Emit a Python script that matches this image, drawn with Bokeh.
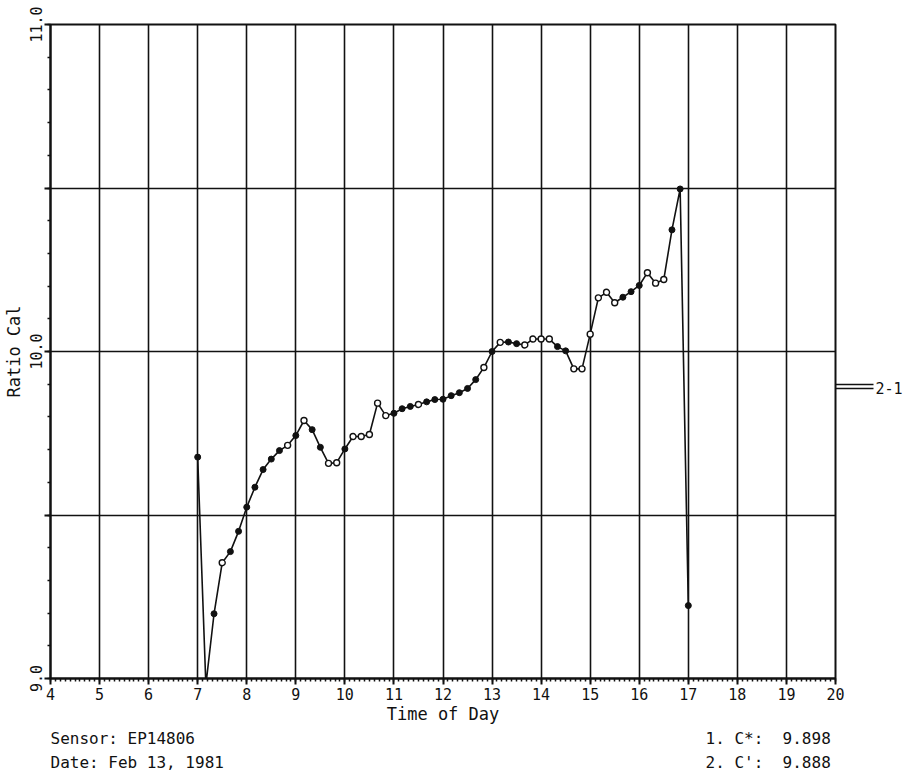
from bokeh.plotting import figure
from bokeh.models import Range1d, FixedTicker, LinearAxis, Title
from bokeh.embed import file_html
from bokeh.resources import INLINE

# ---------------- data ----------------
TIMES = ["07:00", "07:10", "07:20", "07:30", "07:40", "07:50",
         "08:00", "08:10", "08:20", "08:30", "08:40", "08:50",
         "09:00", "09:10", "09:20", "09:30", "09:40", "09:50",
         "10:00", "10:10", "10:20", "10:30", "10:40", "10:50",
         "11:00", "11:10", "11:20", "11:30", "11:40", "11:50",
         "12:00", "12:10", "12:20", "12:30", "12:40", "12:50",
         "13:00", "13:10", "13:20", "13:30", "13:40", "13:50",
         "14:00", "14:10", "14:20", "14:30", "14:40", "14:50",
         "15:00", "15:10", "15:20", "15:30", "15:40", "15:50",
         "16:00", "16:10", "16:20", "16:30", "16:40", "16:50",
         "17:00"]
RATIO = [9.677, 8.980, 9.198, 9.354, 9.388, 9.450,
         9.524, 9.585, 9.639, 9.671, 9.697, 9.713,
         9.743, 9.789, 9.761, 9.707, 9.658, 9.660,
         9.702, 9.740, 9.740, 9.746, 9.842, 9.804,
         9.811, 9.825, 9.832, 9.838, 9.846, 9.853,
         9.854, 9.865, 9.874, 9.887, 9.914, 9.951,
         10.000, 10.028, 10.029, 10.024, 10.020, 10.038,
         10.038, 10.038, 10.015, 10.002, 9.947, 9.947,
         10.053, 10.164, 10.181, 10.149, 10.166, 10.183,
         10.202, 10.241, 10.209, 10.220, 10.372, 10.497,
         9.223]
HOLLOW = [3, 11, 13, 16, 17, 19, 20, 21, 22, 23, 27, 35, 37, 40, 41, 42,
          43, 46, 47, 48, 49, 50, 51, 55, 56, 57]

X_TICKS = list(range(4, 21))
Y_TICKS = [9.0, 9.5, 10.0, 10.5, 11.0]
Y_TICK_LABELS = ["9.0", "", "10.0", "", "11.0"]
X_GRID = list(range(5, 20))
Y_GRID = [9.5, 10.0, 10.5]

SENSOR = "EP14806"
DATE = "Feb 13, 1981"
C1_NAME, C1_VALUE = "C*", 9.898
C2_NAME, C2_VALUE = "C'", 9.888


def hours(s):
    h, m = s.split(":")
    return int(h) + int(m) / 60.0


xs = [hours(t) for t in TIMES]
filled_x = [x for i, x in enumerate(xs) if i not in HOLLOW]
filled_y = [y for i, y in enumerate(RATIO) if i not in HOLLOW]
hollow_x = [xs[i] for i in HOLLOW]
hollow_y = [RATIO[i] for i in HOLLOW]

FONT = "DejaVu Sans Mono"
INK = "#111111"
NB = "\u00a0"

p = figure(width=906, height=772,
           x_range=Range1d(4, 20), y_range=Range1d(9, 11),
           output_backend="svg", toolbar_location=None,
           min_border_left=49, min_border_right=71,
           min_border_top=24, min_border_bottom=94)
p.background_fill_color = "white"
p.border_fill_color = "white"
p.outline_line_color = INK
p.outline_line_width = 2

# axes
xa = p.xaxis[0]
xa.ticker = FixedTicker(ticks=X_TICKS, minor_ticks=[4 + i / 10 for i in range(161)])
xa.axis_label = "Time of Day"
ya = p.yaxis[0]
ya.ticker = FixedTicker(ticks=Y_TICKS, minor_ticks=[9 + i / 10 for i in range(21)])
ya.major_label_overrides = {t: l for t, l in zip(Y_TICKS, Y_TICK_LABELS)}
ya.major_label_orientation = "vertical"
ya.axis_label = "Ratio Cal"

for ax in (xa, ya):
    ax.axis_line_color = INK
    ax.axis_line_width = 2
    ax.major_tick_line_color = INK
    ax.major_tick_line_width = 2
    ax.major_tick_in = 0
    ax.major_tick_out = 6
    ax.minor_tick_line_color = INK
    ax.minor_tick_line_width = 1.5
    ax.minor_tick_in = 0
    ax.minor_tick_out = 3
    ax.major_label_text_font = FONT
    ax.major_label_text_font_size = "15px"
    ax.major_label_text_color = INK
    ax.major_label_standoff = 3
    ax.axis_label_text_font = FONT
    ax.axis_label_text_font_size = "17px"
    ax.axis_label_text_font_style = "normal"
    ax.axis_label_text_color = INK
    ax.axis_label_standoff = 3
xa.axis_label_standoff = 1

# right-hand value indicator: ticks at the two calibration values
ind = LinearAxis(ticker=FixedTicker(ticks=[C2_VALUE, C1_VALUE], minor_ticks=[]),
                 major_label_overrides={C2_VALUE: "2-1", C1_VALUE: ""},
                 axis_line_color=None,
                 major_tick_line_color=INK, major_tick_line_width=1.3,
                 major_tick_in=0, major_tick_out=38,
                 minor_tick_line_color=None,
                 major_label_standoff=2,
                 major_label_text_font=FONT, major_label_text_font_size="15px",
                 major_label_text_color=INK)
p.add_layout(ind, "right")

p.xgrid.ticker = FixedTicker(ticks=X_GRID)
p.ygrid.ticker = FixedTicker(ticks=Y_GRID)
for g in (p.xgrid[0], p.ygrid[0]):
    g.grid_line_color = INK
    g.grid_line_width = 1.6
    g.grid_line_alpha = 1.0

# data
p.line(xs, RATIO, line_color=INK, line_width=1.6)
p.scatter(filled_x, filled_y, marker="circle", size=6,
          fill_color=INK, line_color=INK)
p.scatter(hollow_x, hollow_y, marker="circle", size=6,
          fill_color="white", line_color=INK, line_width=1.4)

# footer: two monospace lines, left block and right block
left1 = "Sensor: " + SENSOR
left2 = "Date: " + DATE
right1 = "1. " + C1_NAME + ":" + NB * 2 + "%.3f" % C1_VALUE
right2 = "2. " + C2_NAME + ":" + NB * 2 + "%.3f" % C2_VALUE
COL = 68
line1 = left1 + NB * (COL - len(left1)) + right1
line2 = left2 + NB * (COL - len(left2)) + right2
foot = Title(text=line1 + "\n" + line2, align="left",
             text_font=FONT, text_font_size="16px", text_font_style="normal",
             text_color=INK, text_line_height=1.3, standoff=0, offset=0)
p.add_layout(foot, "below")

open("out.html", "w").write(file_html(p, INLINE))
